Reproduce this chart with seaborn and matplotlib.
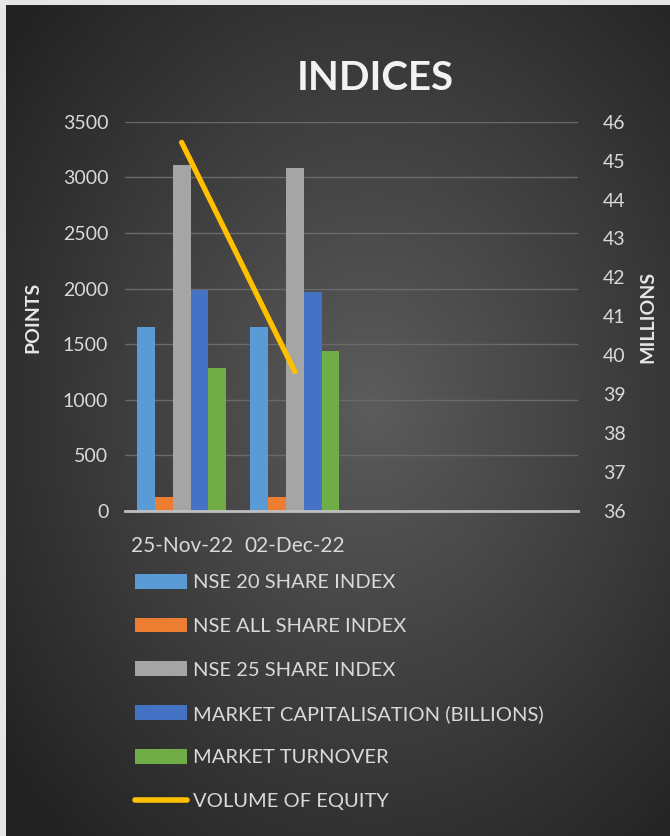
import numpy as np
import pandas as pd
import matplotlib as mpl
from matplotlib import pyplot as plt
from matplotlib.patches import Patch
from matplotlib.lines import Line2D
import seaborn as sns

# data
dates = ["25-Nov-22", "02-Dec-22"]
nse20 = [1651, 1651]
nse_all = [126, 126]
nse25 = [3108, 3081]
market_cap = [1984, 1966]
turnover = [1283, 1436]
volume_equity = [45.47, 39.58]

series_names = ["NSE 20 SHARE INDEX", "NSE ALL SHARE INDEX", "NSE 25 SHARE INDEX",
                "MARKET CAPITALISATION (BILLIONS)", "MARKET TURNOVER"]
line_name = "VOLUME OF EQUITY"
colors = ["#5B9BD5", "#ED7D31", "#A5A5A5", "#4472C4", "#70AD47"]
line_color = "#FFC000"

# long table for seaborn
rows = []
for name, vals in zip(series_names, [nse20, nse_all, nse25, market_cap, turnover]):
    for d, v in zip(dates, vals):
        rows.append({"date": d, "series": name, "value": v})
df = pd.DataFrame(rows)

sns.set_theme(style="white")
plt.rcParams['font.family'] = ['Lato', 'DejaVu Sans']

W, H = 670, 836
fig = plt.figure(figsize=(W / 100, H / 100), dpi=100)
fig.patch.set_facecolor("#e6e6e6")

# dark radial-gradient background (excel style)
bg = fig.add_axes([6 / W, 0, 1 - 6 / W, 1 - 5 / H])
yy, xx = np.mgrid[0:1:400j, 0:1:400j]
r = np.sqrt(((xx - 0.55) / 0.75) ** 2 + ((yy - 0.48) / 0.75) ** 2)
shade = np.clip(0.36 - 0.24 * r, 0.14, 0.36)
bg.imshow(np.dstack([shade, shade, shade]), extent=[0, 1, 0, 1], aspect="auto")
bg.set_axis_off()
bg.set_zorder(-10)

ax = fig.add_axes([125 / W, 1 - 511 / H, 453 / W, 389.3 / H])
ax.set_facecolor("none")
sns.barplot(data=df, x="date", y="value", hue="series", palette=colors,
            width=0.785, ax=ax, legend=False, saturation=1)
ax.set_xlim(-0.5, 3.5)
ax.set_ylim(0, 3500)
ax.set_yticks(range(0, 3501, 500))
ax.yaxis.grid(True, color="#6a6a6a", linewidth=1)
ax.set_axisbelow(True)
for s in ["top", "right", "left"]:
    ax.spines[s].set_visible(False)
ax.spines["bottom"].set_color("#bfbfbf")
ax.spines["bottom"].set_linewidth(2)
ax.tick_params(axis="both", length=0, colors="#d9d9d9", labelsize=14)
ax.tick_params(axis="x", pad=18, labelsize=15)
ax.tick_params(axis="y", pad=12)
ax.set_xlabel("")
ax.set_ylabel("")
for b in ax.patches:
    b.set_edgecolor("none")

ax2 = ax.twinx()
sns.lineplot(x=np.arange(len(dates)), y=volume_equity, ax=ax2, color=line_color,
             linewidth=3.8, solid_capstyle="round")
ax2.set_ylim(36, 46)
ax2.set_yticks(range(36, 47))
for s in ["top", "right", "left", "bottom"]:
    ax2.spines[s].set_visible(False)
ax2.tick_params(axis="y", length=0, colors="#d9d9d9", labelsize=14, pad=18)

fig.text(375 / W, 1 - 78 / H, "INDICES", color="#f2f2f2", fontsize=29,
         fontweight="bold", ha="center", va="center")
fig.text(33 / W, 1 - 317 / H, "POINTS", color="#e6e6e6", fontsize=14,
         fontweight="bold", rotation=90, ha="center", va="center")
fig.text(648 / W, 1 - 317 / H, "MILLIONS", color="#e6e6e6", fontsize=14,
         fontweight="bold", rotation=90, ha="center", va="center")

handles = [Patch(facecolor=c, edgecolor="none") for c in colors]
handles.append(Line2D([0], [0], color=line_color, linewidth=4, solid_capstyle="round"))
leg = fig.legend(handles, series_names + [line_name], loc="upper left",
                 bbox_to_anchor=(127 / W, 1 - 566 / H), frameon=False,
                 borderaxespad=0, fontsize=14.5, labelcolor="#d9d9d9",
                 handlelength=2.6, handleheight=0.75, handletextpad=0.3,
                 labelspacing=1.3)

fig.savefig("out.png", dpi=100)
